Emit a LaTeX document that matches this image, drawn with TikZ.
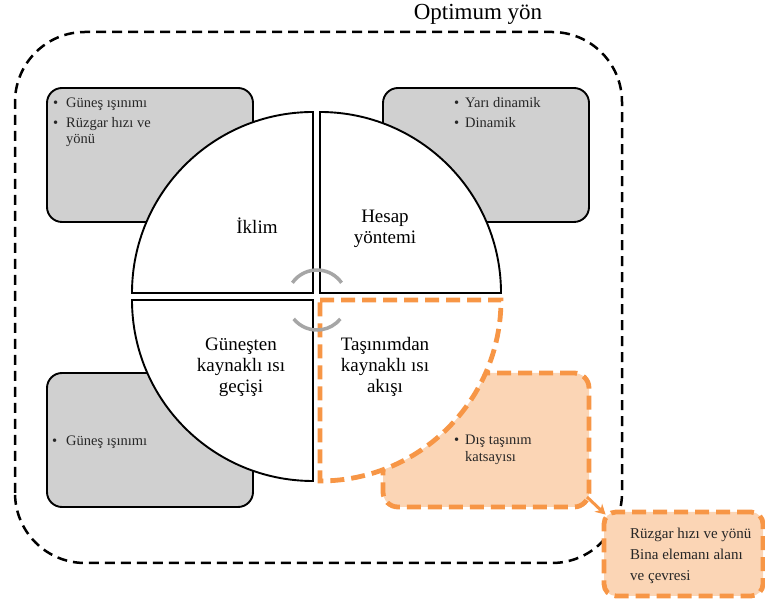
\documentclass[tikz,border=0pt]{standalone}
\usepackage{fontspec}
\setmainfont{Liberation Serif}
\usetikzlibrary{arrows.meta,calc}
\definecolor{boxgray}{HTML}{D0D0D0}
\definecolor{accorange}{HTML}{F79646}
\definecolor{peach}{HTML}{FBD5B5}
\definecolor{cyclegray}{HTML}{A6A6A6}
\begin{document}
\begin{tikzpicture}[x=1pt,y=1pt,
  infobox/.style={draw=black, line width=1.9pt, fill=boxgray, rounded corners=15pt, minimum width=206pt, minimum height=134pt, inner sep=0},
  hlbox/.style={draw=accorange, line width=4.8pt, fill=peach, rounded corners=15pt, dash pattern=on 14pt off 7pt, inner sep=0},
  sector/.style={draw=black, line width=1.9pt, fill=white},
  hlsector/.style={draw=accorange, line width=4.8pt, fill=white, dash pattern=on 14pt off 7pt},
  frame/.style={draw=black, line width=2.5pt, dash pattern=on 10pt off 6pt, rounded corners=70pt},
  secttext/.style={font=\fontsize{19}{21}\selectfont, align=center, inner sep=0},
  bul/.style={font=\fontsize{14.5}{17}\selectfont, anchor=base west, inner sep=0, text=black!85},
  outtext/.style={font=\fontsize{15}{18}\selectfont, anchor=base west, inner sep=0, text=black!85},
  cyc/.style={draw=cyclegray, line width=3.5pt}
]
\useasboundingbox (0,0) rectangle (765,599);

% outer frame and title
\draw[frame] (15,36) rectangle (622,567);
\node[font=\fontsize{23}{26}\selectfont, inner sep=0] (title) at (478,585) {Optimum yön};

% side boxes
\node[infobox] (tlbox) at (150,444) {};
\node[infobox] (trbox) at (486,444) {};
\node[infobox] (blbox) at (150,159) {};
\node[hlbox, minimum width=206pt, minimum height=134pt] (brbox) at (486,159) {};

% sectors
\draw[sector] (313,306) -- (132,306) arc[start angle=180,end angle=90,radius=181] -- cycle;
\draw[sector] (320,306) -- (320,487) arc[start angle=90,end angle=0,radius=181] -- cycle;
\draw[sector] (313,299) -- (313,118) arc[start angle=270,end angle=180,radius=181] -- cycle;
\draw[hlsector] (320,299) -- (501,299) arc[start angle=0,end angle=-90,radius=181] -- cycle;

% cycle arcs
\draw[cyc] (292.4,316.2) arc[start angle=145,end angle=35,radius=30];
\draw[cyc] (293.7,280.1) arc[start angle=219,end angle=321,radius=30];

% sector texts
\node[secttext] (iklim) at (257,373) {İklim};
\node[secttext] (hesap) at (385,370) {Hesap\\yöntemi};
\node[secttext] (gunes) at (241,232) {Güneşten\\kaynaklı ısı\\geçişi};
\node[secttext] (tasin) at (385,232) {Taşınımdan\\kaynaklı ısı\\akışı};

% box bullet texts
\node[bul] (tlb1) at (53,491) {•};
\node[bul] (tl1) at (66,491) {Güneş ışınımı};
\node[bul] (tlb2) at (53,471.5) {•};
\node[bul] (tl2) at (66,471.5) {Rüzgar hızı ve};
\node[bul] (tl3) at (66,455) {yönü};

\node[bul] (trb1) at (454,491) {•};
\node[bul] (tr1) at (465,491) {Yarı dinamik};
\node[bul] (trb2) at (454,471.5) {•};
\node[bul] (tr2) at (465,471.5) {Dinamik};

\node[bul] (blb1) at (52,153) {•};
\node[bul] (bl1) at (66,153) {Güneş ışınımı};

\node[bul] (brb1) at (454,154) {•};
\node[bul] (br1) at (465,154) {Dış taşınım};
\node[bul] (br2) at (465,137) {katsayısı};

% output box
\node[hlbox, rounded corners=12pt, minimum width=159pt, minimum height=84pt] (outbox) at (683.5,45) {};
\node[outtext] (o1) at (630,60) {Rüzgar hızı ve yönü};
\node[outtext] (o2) at (630,39) {Bina elemanı alanı};
\node[outtext] (o3) at (630,18) {ve çevresi};

% arrow
\coordinate (arrstart) at (587,102);
\draw[accorange, line width=3pt, -{Stealth[length=10pt,width=11pt]}] (arrstart) -- ($(outbox.north west)+(4,-5)$);
\end{tikzpicture}
\end{document}
